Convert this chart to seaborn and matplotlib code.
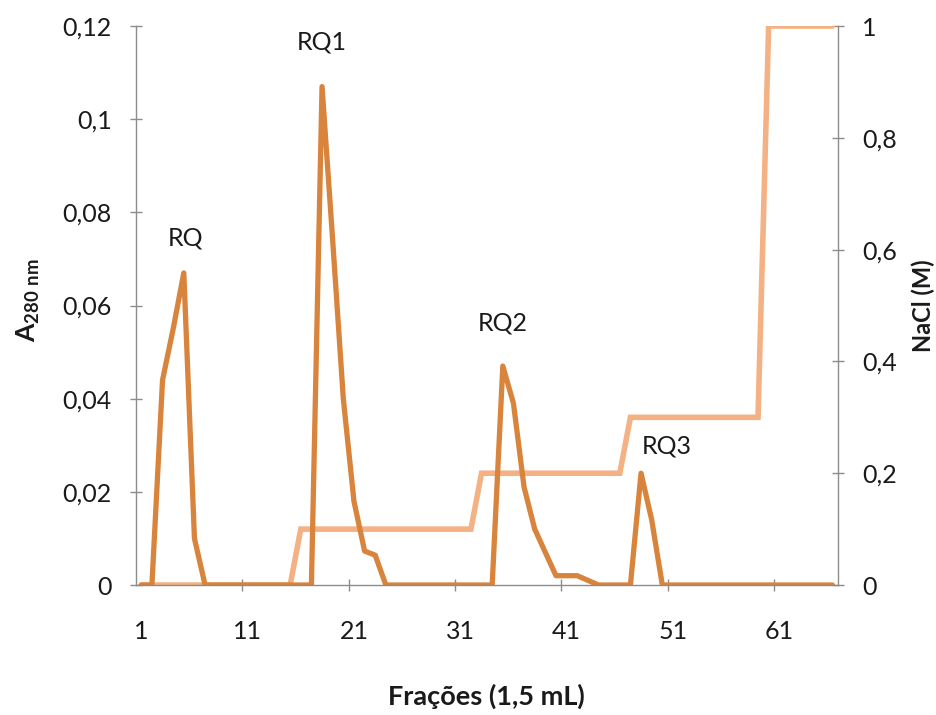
import matplotlib
matplotlib.use("Agg")
import matplotlib.pyplot as plt
import seaborn as sns
import pandas as pd
from matplotlib.ticker import FixedLocator, FuncFormatter

# ---- data ----
fractions = list(range(1, 67))
absorbance = [
    0, 0, 0.044, 0.055, 0.067, 0.010, 0, 0, 0, 0,          # 1-10
    0, 0, 0, 0, 0, 0, 0, 0.107, 0.074, 0.040,              # 11-20
    0.018, 0.0073, 0.0064, 0, 0, 0, 0, 0, 0, 0,            # 21-30
    0, 0, 0, 0, 0.047, 0.039, 0.021, 0.012, 0.007, 0.002,  # 31-40
    0.002, 0.002, 0.001, 0, 0, 0, 0, 0.024, 0.014, 0,      # 41-50
    0, 0, 0, 0, 0, 0, 0, 0, 0, 0,                          # 51-60
    0, 0, 0, 0, 0, 0,                                      # 61-66
]
nacl = [
    0, 0, 0, 0, 0, 0, 0, 0, 0, 0,                          # 1-10
    0, 0, 0, 0, 0, 0.1, 0.1, 0.1, 0.1, 0.1,                # 11-20
    0.1, 0.1, 0.1, 0.1, 0.1, 0.1, 0.1, 0.1, 0.1, 0.1,      # 21-30
    0.1, 0.1, 0.2, 0.2, 0.2, 0.2, 0.2, 0.2, 0.2, 0.2,      # 31-40
    0.2, 0.2, 0.2, 0.2, 0.2, 0.2, 0.3, 0.3, 0.3, 0.3,      # 41-50
    0.3, 0.3, 0.3, 0.3, 0.3, 0.3, 0.3, 0.3, 0.3, 1.0,      # 51-60
    1.0, 1.0, 1.0, 1.0, 1.0, 1.0,                          # 61-66
]
x_tick_labels = [1, 11, 21, 31, 41, 51, 61]
left_ticks = [0, 0.02, 0.04, 0.06, 0.08, 0.10, 0.12]
right_ticks = [0, 0.2, 0.4, 0.6, 0.8, 1.0]
peak_labels = ["RQ", "RQ1", "RQ2", "RQ3"]
peak_label_x = [5.2, 18.0, 35.0, 50.4]
peak_label_y = [0.0745, 0.1165, 0.0562, 0.0298]

df = pd.DataFrame({"Fração": fractions, "A280": absorbance, "NaCl": nacl})

# ---- style ----
sns.set_theme(style="white")
plt.rcParams["font.family"] = ["Lato", "DejaVu Sans"]
plt.rcParams["mathtext.fontset"] = "custom"
plt.rcParams["mathtext.bf"] = "Lato:bold"
plt.rcParams["mathtext.rm"] = "Lato"

dark = "#D8843C"
light = "#F4B183"
spine_c = "#8C8C8C"
text_c = "#1A1A1A"

fig = plt.figure(figsize=(9.37, 7.15), dpi=100)
ax = fig.add_axes([0.1451, 0.1818, 0.749, 0.7818])
ax2 = ax.twinx()

sns.lineplot(data=df, x="Fração", y="NaCl", ax=ax2, color=light, linewidth=4.0,
             sort=False, solid_joinstyle="miter")
sns.lineplot(data=df, x="Fração", y="A280", ax=ax, color=dark, linewidth=3.8,
             sort=False)

ax.set_zorder(ax2.get_zorder() + 1)
ax.patch.set_visible(False)

ax.set_xlim(0.5, 66.5)
ax.set_ylim(0, 0.12)
ax2.set_ylim(0, 1.0)

comma = FuncFormatter(lambda v, p: ("%g" % round(v, 4)).replace(".", ","))

ax.yaxis.set_major_locator(FixedLocator(left_ticks))
ax.yaxis.set_major_formatter(comma)
ax2.yaxis.set_major_locator(FixedLocator(right_ticks))
ax2.yaxis.set_major_formatter(comma)

ax.set_xticks(x_tick_labels)
ax.set_xticklabels([str(v) for v in x_tick_labels])
ax.set_xticks([10.5, 20.5, 30.5, 40.5, 50.5, 60.5], minor=True)

for a in (ax, ax2):
    for s in a.spines.values():
        s.set_color(spine_c)
        s.set_linewidth(1.0)
    a.spines["top"].set_visible(False)
ax.spines["right"].set_visible(False)
ax2.spines["left"].set_visible(False)
ax2.spines["bottom"].set_visible(False)

ax.tick_params(axis="y", which="major", direction="inout", length=9, width=1,
               color=spine_c, pad=13, labelsize=18, labelcolor=text_c, left=True)
ax2.tick_params(axis="y", which="major", direction="inout", length=9, width=1,
                color=spine_c, pad=13, labelsize=18, labelcolor=text_c, right=True)
ax.tick_params(axis="x", which="major", length=0, pad=25, labelsize=18,
               labelcolor=text_c)
ax.tick_params(axis="x", which="minor", direction="inout", length=9, width=1,
               color=spine_c, bottom=True)

ax.set_xlabel("Frações (1,5 mL)", fontsize=19.5, fontweight="bold", color=text_c,
              va="center")
ax.xaxis.set_label_coords(0.5, -0.2)
ax.set_ylabel(r"A$_{\mathbf{280\ nm}}$", fontsize=19, fontweight="bold", color=text_c,
              va="center")
ax.yaxis.set_label_coords(-0.154, 0.51)
ax2.set_ylabel("NaCl (M)", fontsize=17, fontweight="bold", color=text_c,
               va="center", rotation=90)
ax2.yaxis.set_label_coords(1.122, 0.50)

for lab, lx, ly in zip(peak_labels, peak_label_x, peak_label_y):
    ax.text(lx, ly, lab, ha="center", va="center", fontsize=18, color=text_c)

fig.savefig("out.png", dpi=100, facecolor="white")
